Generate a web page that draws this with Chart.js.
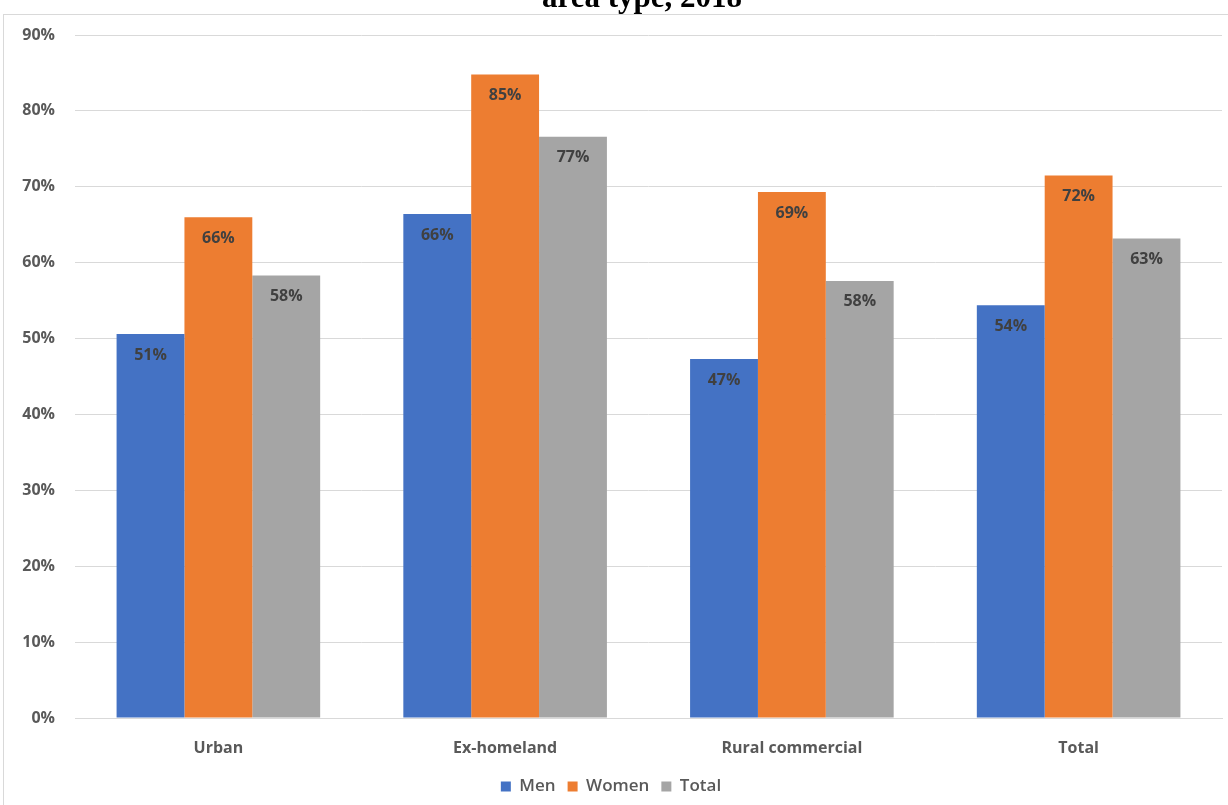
<!DOCTYPE html>
<html>
<head>
<meta charset="utf-8">
<script src="https://cdn.jsdelivr.net/npm/chart.js@4/dist/chart.umd.min.js"></script>
<style>
  html, body { margin: 0; padding: 0; background: #fff; overflow: hidden; }
  #wrap { position: relative; width: 1228px; height: 805px; }
  #frame { position: absolute; left: 3px; top: 14px; width: 1300px; height: 900px; border: 1px solid #d9d9d9; box-sizing: border-box; }
  #title { position: absolute; left: 0; width: 1284px; top: -20px; text-align: center;
           font: bold 31px "Liberation Serif", "Times New Roman", serif; color: #000; line-height: 34px; }
  #chart { position: absolute; left: 0; top: 0; }
</style>
</head>
<body>
<div id="wrap">
  <div id="frame"></div>
  <canvas id="chart" width="1228" height="805"></canvas>
  <div id="title">area type, 2018</div>
</div>
<script>
// Chart data
const categories = ['Urban', 'Ex-homeland', 'Rural commercial', 'Total'];
const menValues = [50.6, 66.4, 47.3, 54.4];
const womenValues = [66.0, 84.8, 69.3, 71.5];
const totalValues = [58.3, 76.6, 57.6, 63.2];
const yTicks = [0, 10, 20, 30, 40, 50, 60, 70, 80, 90];

const textGray = '#595959';
const labelGray = '#404040';
const fontFamily = '"Open Sans", Roboto, sans-serif';

// Draws value labels just inside the top of each bar
const barLabels = {
    id: 'barLabels',
    afterDatasetsDraw(chart) {
        const ctx = chart.ctx;
        ctx.save();
        ctx.font = 'bold 16px ' + fontFamily;
        ctx.fillStyle = labelGray;
        ctx.textAlign = 'center';
        ctx.textBaseline = 'middle';
        chart.data.datasets.forEach((ds, i) => {
            chart.getDatasetMeta(i).data.forEach((bar, j) => {
                ctx.fillText(Math.round(ds.data[j]) + '%', bar.x, bar.y + 21);
            });
        });
        ctx.restore();
    }
};

new Chart(document.getElementById('chart'), {
    type: 'bar',
    data: {
        labels: categories,
        datasets: [
            { label: 'Men', data: menValues, backgroundColor: '#4472c4' },
            { label: 'Women', data: womenValues, backgroundColor: '#ed7d31' },
            { label: 'Total', data: totalValues, backgroundColor: '#a5a5a5' }
        ]
    },
    options: {
        responsive: false,
        animation: false,
        layout: { padding: { top: 35, right: 6, left: 0, bottom: 0 } },
        datasets: { bar: { barPercentage: 1, categoryPercentage: 0.71 } },
        scales: {
            x: {
                grid: { display: false },
                border: { color: '#d9d9d9', width: 1 },
                ticks: { color: textGray, font: { family: fontFamily, size: 16, weight: 'bold' }, padding: 13 },
                afterFit(scale) { scale.height = 48; }
            },
            y: {
                min: 0,
                max: 90,
                afterBuildTicks(scale) { scale.ticks = yTicks.map(v => ({ value: v })); },
                grid: { color: '#d9d9d9', lineWidth: 1, drawTicks: false },
                border: { display: false },
                ticks: {
                    color: textGray,
                    font: { family: fontFamily, size: 16, weight: 'bold' },
                    padding: 20,
                    callback: v => v + '%'
                },
                afterFit(scale) { scale.width = 75; }
            }
        },
        plugins: {
            legend: {
                position: 'bottom',
                labels: {
                    color: textGray,
                    font: { family: fontFamily, size: 17, weight: '600' },
                    boxWidth: 10,
                    boxHeight: 10,
                    padding: 12
                }
            },
            tooltip: { enabled: false }
        }
    },
    plugins: [barLabels]
});
</script>
</body>
</html>
